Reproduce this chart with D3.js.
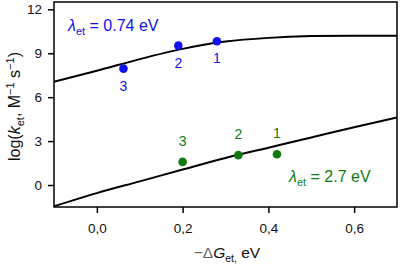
<!DOCTYPE html>
<html>
<head>
<meta charset="utf-8">
<script src="https://cdn.jsdelivr.net/npm/d3@7"></script>
<style>
  body { margin: 0; background: #fff; }
  svg { display: block; font-family: "Liberation Sans", Arial, sans-serif; }
</style>
</head>
<body>
<div id="chart"></div>
<script>
// data
let xTicks = [0, 0.2, 0.4, 0.6];
let yTicks = [0, 3, 6, 9, 12];

let curveX = [-0.1, 0, 0.1, 0.2, 0.3, 0.4, 0.5, 0.6, 0.7];
let curveBlue = [7.05, 7.8, 8.6, 9.3, 9.8, 10.05, 10.17, 10.2, 10.2];
let curveGreen = [-1.45, -0.55, 0.25, 1.06, 1.85, 2.55, 3.25, 3.95, 4.62];

let blueX = [0.28, 0.19, 0.062];
let blueY = [9.82, 9.52, 7.95];
let greenX = [0.42, 0.33, 0.2];
let greenY = [2.1, 2.04, 1.58];
let pointLabels = ["1", "2", "3"];

let blue = "#1010f0", green = "#107a10";

let W = 400, H = 265;
let m = {top: 2, right: 3, bottom: 58, left: 54};

let svg = d3.select("#chart").append("svg")
    .attr("width", W).attr("height", H);

let x = d3.scaleLinear().domain([-0.1, 0.7]).range([m.left, W - m.right]);
let y = d3.scaleLinear().domain([-1.5, 12.5]).range([H - m.bottom, m.top]);

let fmt = d => d3.format(".1f")(d).replace(".", ",");

// axes
let xAxis = svg.append("g")
    .attr("transform", "translate(0," + (H - m.bottom) + ")")
    .call(d3.axisBottom(x).tickValues(xTicks).tickFormat(fmt).tickSizeOuter(0).tickSize(6).tickPadding(10));
let yAxis = svg.append("g")
    .attr("transform", "translate(" + m.left + ",0)")
    .call(d3.axisLeft(y).tickValues(yTicks).tickSizeOuter(0).tickSize(6).tickPadding(6));

[xAxis, yAxis].forEach(g => {
    g.select(".domain").remove();
    g.selectAll("line").attr("stroke", "#000").attr("stroke-width", 1.5);
    g.selectAll("text").attr("font-size", 13.5).attr("fill", "#111")
        .attr("font-family", "Liberation Sans, Arial, sans-serif");
});

// curves
let line = d3.line().x(d => x(d[0])).y(d => y(d[1])).curve(d3.curveMonotoneX);
svg.append("clipPath").attr("id", "clip")
    .append("rect").attr("x", m.left).attr("y", m.top)
    .attr("width", W - m.left - m.right).attr("height", H - m.top - m.bottom);

[curveBlue, curveGreen].forEach(c => {
    svg.append("path")
        .datum(curveX.map((d, i) => [d, c[i]]))
        .attr("clip-path", "url(#clip)")
        .attr("d", line)
        .attr("fill", "none")
        .attr("stroke", "#000")
        .attr("stroke-width", 2);
});

// points
function points(xs, ys, col, dy) {
    svg.append("g").selectAll("circle")
        .data(xs.map((d, i) => [d, ys[i]]))
        .enter().append("circle")
        .attr("cx", d => x(d[0])).attr("cy", d => y(d[1]))
        .attr("r", 4.3).attr("fill", col);
    svg.append("g").selectAll("text")
        .data(xs.map((d, i) => [d, ys[i], pointLabels[i]]))
        .enter().append("text")
        .attr("x", d => x(d[0])).attr("y", d => y(d[1]) + dy)
        .attr("text-anchor", "middle")
        .attr("font-size", 14).attr("fill", col)
        .text(d => d[2]);
}
points(blueX, blueY, blue, 22);
points(greenX, greenY, green, -16);

// frame
svg.append("rect")
    .attr("x", m.left).attr("y", m.top)
    .attr("width", W - m.left - m.right).attr("height", H - m.top - m.bottom)
    .attr("fill", "none").attr("stroke", "#000").attr("stroke-width", 1.5);

// lambda labels
function lambdaLabel(tx, ty, val, col) {
    let t = svg.append("text").attr("x", tx).attr("y", ty)
        .attr("font-size", 16).attr("fill", col);
    t.append("tspan").attr("font-style", "italic").text("λ");
    t.append("tspan").attr("font-size", 11).attr("dy", 4).text("et");
    t.append("tspan").attr("dy", -4).text(" = " + val + " eV");
}
lambdaLabel(68, 31, "0.74", blue);
lambdaLabel(289, 182, "2.7", green);

// x title
let xt = svg.append("text").attr("x", 227).attr("y", 258)
    .attr("text-anchor", "middle").attr("font-size", 15.5).attr("fill", "#111");
xt.append("tspan").attr("fill", "#666").text("−Δ");
xt.append("tspan").attr("font-style", "italic").text("G");
xt.append("tspan").attr("font-size", 10.5).attr("dy", 4).text("et,");
xt.append("tspan").attr("dy", -4).text(" eV");

// y title
let yt = svg.append("text")
    .attr("transform", "translate(20," + ((H - m.bottom + m.top) / 2 + 2) + ") rotate(-90)")
    .attr("text-anchor", "middle").attr("font-size", 16).attr("fill", "#111");
yt.append("tspan").text("log(");
yt.append("tspan").attr("font-style", "italic").text("k");
yt.append("tspan").attr("font-size", 11).attr("dy", 4).text("et");
yt.append("tspan").attr("dy", -4).text(", M");
yt.append("tspan").attr("font-size", 11).attr("dy", -6).text("−1");
yt.append("tspan").attr("dy", 6).text(" s");
yt.append("tspan").attr("font-size", 11).attr("dy", -6).text("−1");
yt.append("tspan").attr("dy", 6).text(")");
</script>
</body>
</html>
